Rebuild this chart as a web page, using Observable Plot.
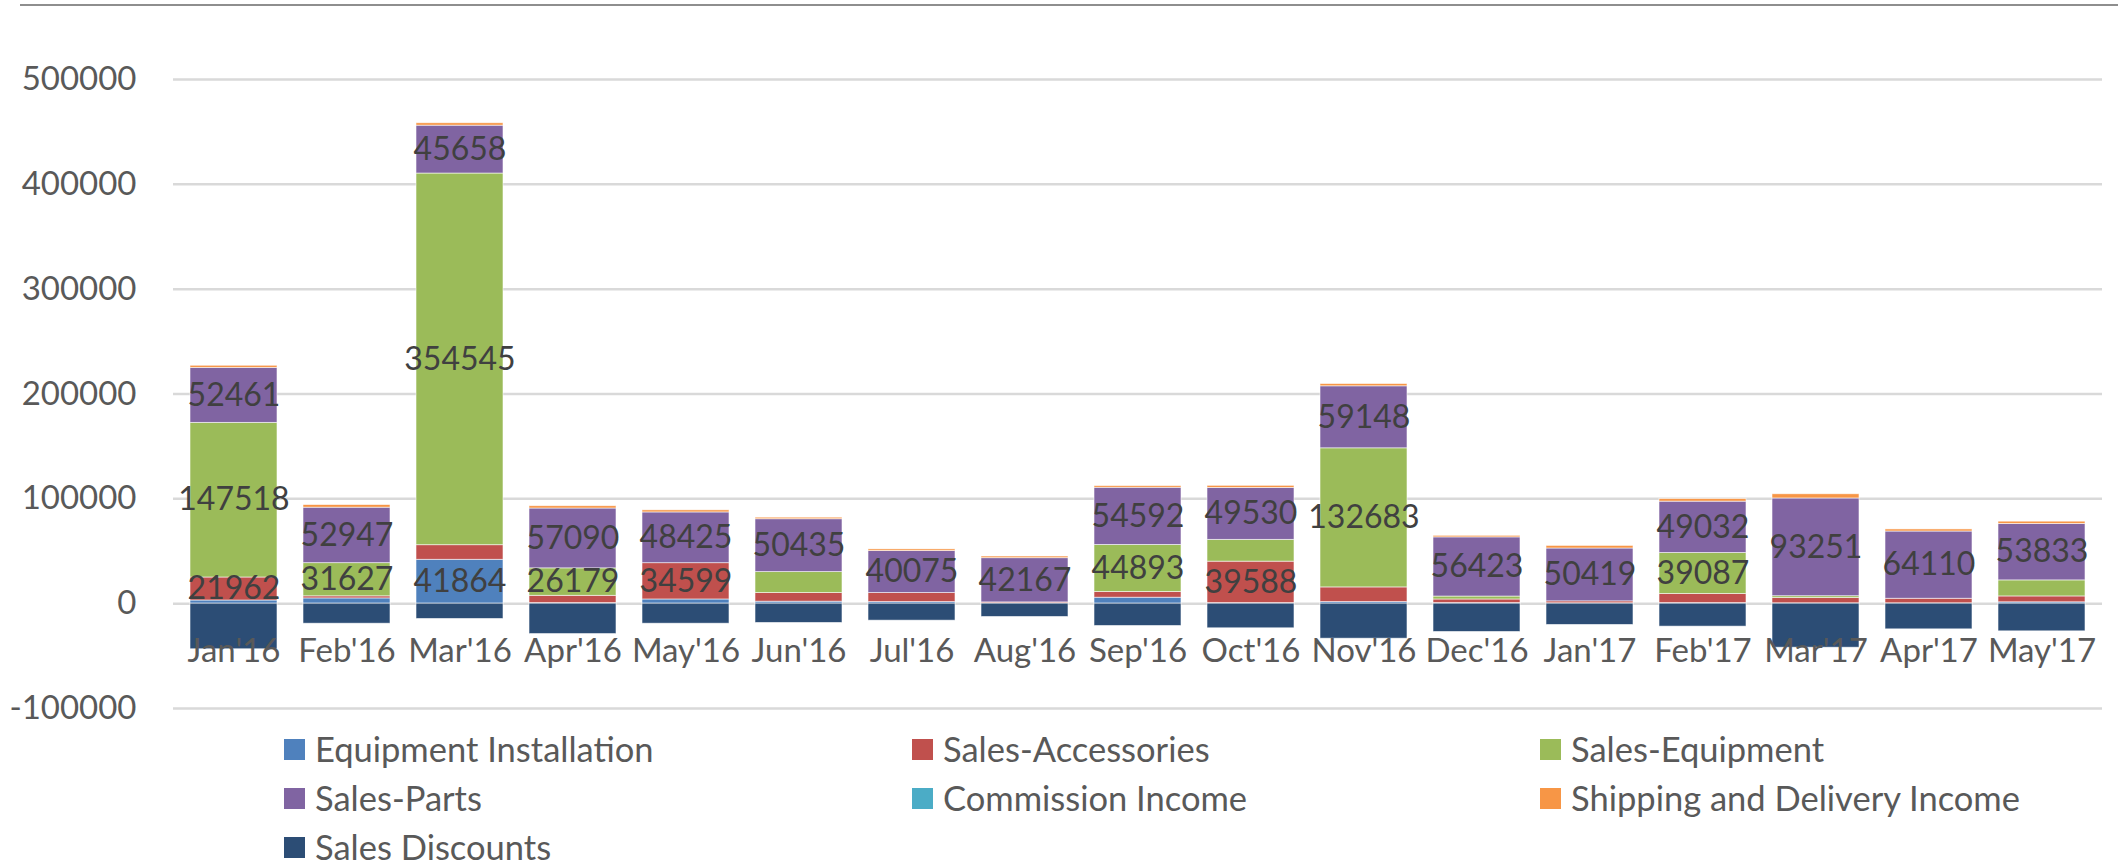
<!DOCTYPE html>
<html>
<head>
<meta charset="utf-8">
<script src="https://cdn.jsdelivr.net/npm/d3@7"></script>
<script src="https://cdn.jsdelivr.net/npm/@observablehq/plot@0.6"></script>
<style>
  html, body { margin: 0; padding: 0; background: #fff; }
  #wrap { position: relative; width: 2118px; height: 864px; font-family: Lato, "Open Sans", sans-serif; }
  #topline { position: absolute; left: 20px; right: 0; top: 4px; height: 2px; background: #8e8e8e; }
  #chart { position: absolute; left: 0; top: 0; }
  #legend { position: absolute; left: 284px; top: 725px; display: grid; grid-template-columns: 628px 628px 628px; grid-auto-rows: 49px; }
  .item { display: flex; align-items: center; font-size: 34.5px; line-height: 1; color: #595959; white-space: nowrap; }
  .sw { width: 21px; height: 21px; margin-right: 10px; flex: none; }
</style>
</head>
<body>
<div id="wrap"><div id="chart"></div><div id="topline"></div><div id="legend"></div></div>
<script>
const months = ["Jan'16","Feb'16","Mar'16","Apr'16","May'16","Jun'16","Jul'16","Aug'16","Sep'16","Oct'16","Nov'16","Dec'16","Jan'17","Feb'17","Mar'17","Apr'17","May'17"];

const seriesNames = ["Equipment Installation","Sales-Accessories","Sales-Equipment","Sales-Parts","Commission Income","Shipping and Delivery Income","Sales Discounts"];
const seriesColors = ["#4F81BD","#C0504D","#9BBB59","#8064A2","#4BACC6","#F79646","#2C4D75"];

const equipmentInstallation = [3000, 5000, 41864, 500, 4000, 1900, 1500, 200, 5700, 500, 1500, 500, 300, 500, 300, 300, 1300];
const salesAccessories      = [21962, 2000, 13900, 7000, 34599, 8200, 8600, 1000, 5400, 39588, 14000, 3500, 1900, 8700, 5000, 4400, 5600];
const salesEquipment        = [147518, 31627, 354545, 26179, 0, 20000, 0, 0, 44893, 20800, 132683, 2800, 0, 39087, 1800, 0, 15300];
const salesParts            = [52461, 52947, 45658, 57090, 48425, 50435, 40075, 42167, 54592, 49530, 59148, 56423, 50419, 49032, 93251, 64110, 53833];
const commissionIncome      = [0, 0, 0, 0, 0, 0, 0, 0, 0, 0, 0, 0, 0, 0, 0, 0, 0];
const shippingDelivery      = [2000, 2500, 2300, 2200, 2000, 1500, 1600, 1600, 1600, 2000, 2200, 1500, 2500, 2500, 4000, 2000, 2200];
const salesDiscounts        = [-43500, -19100, -14600, -29000, -19100, -18400, -16200, -12700, -21300, -23500, -33400, -27000, -20300, -21900, -42000, -24500, -26400];

const yTicks = [-100000, 0, 100000, 200000, 300000, 400000, 500000];
const labelThreshold = 21500;

const seriesValues = [equipmentInstallation, salesAccessories, salesEquipment, salesParts, commissionIncome, shippingDelivery, salesDiscounts];

const data = months.flatMap((m, i) => seriesNames.map((s, j) => ({month: m, series: s, value: seriesValues[j][i]})));

const plot = Plot.plot({
  width: 2118,
  height: 726,
  marginTop: 79,
  marginBottom: 18,
  marginLeft: 173,
  marginRight: 16,
  style: {fontFamily: "Lato, 'Open Sans', sans-serif", fontSize: "33px", background: "transparent", overflow: "visible"},
  x: {domain: months, paddingInner: 0.229, paddingOuter: 0.1145, axis: null},
  y: {domain: [-100000, 500000], axis: null},
  color: {domain: seriesNames, range: seriesColors},
  marks: [
    Plot.gridY(yTicks, {stroke: "#d9d9d9", strokeWidth: 2.5, strokeOpacity: 1}),
    Plot.axisY(yTicks, {tickSize: 0, tickPadding: 37, tickFormat: d => String(d), fill: "#595959", fontSize: 33, label: null}),
    Plot.barY(data, {x: "month", y: "value", fill: "series", z: "series", order: seriesNames, stroke: "#ffffff", strokeWidth: 0.8, strokeOpacity: 0.7}),
    Plot.text(months, {x: d => d, y: d => 0, dy: 48, text: d => d, fill: "#595959", fontSize: 33}),
    Plot.text(data, Plot.stackY({x: "month", y: "value", z: "series", order: seriesNames,
      text: d => d.value >= labelThreshold ? String(d.value) : "", fill: "#404040", fontSize: 32}))
  ]
});
document.getElementById("chart").appendChild(plot);

const legend = document.getElementById("legend");
seriesNames.forEach((s, j) => {
  const item = document.createElement("div");
  item.className = "item";
  const sw = document.createElement("span");
  sw.className = "sw";
  sw.style.background = seriesColors[j];
  item.appendChild(sw);
  item.appendChild(document.createTextNode(s));
  legend.appendChild(item);
});
</script>
</body>
</html>
